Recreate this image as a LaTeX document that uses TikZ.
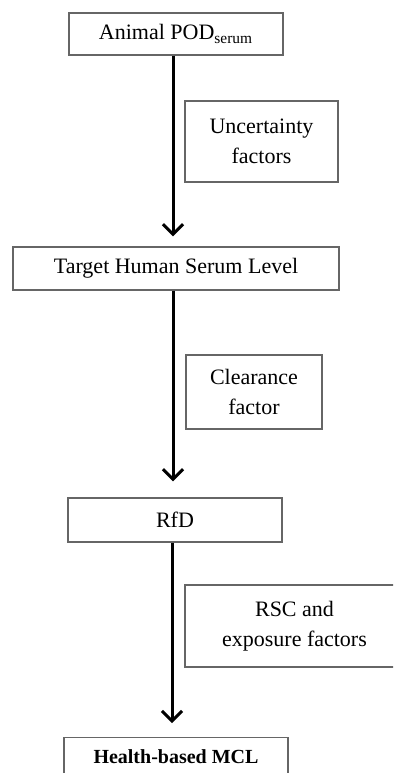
\documentclass[tikz,border=0pt]{standalone}
\usepackage{fontspec}
\setmainfont{Liberation Serif}
\usetikzlibrary{arrows.meta}

\begin{document}
\begin{tikzpicture}[x=0.5pt, y=-0.5pt,
	box/.style={draw=black!60, line width=0.65pt, align=center, inner sep=0pt, font=\fontsize{11}{15}\selectfont},
	flow/.style={line width=1.5pt, -{Straight Barb[length=5pt,width=10pt,line width=1.5pt]}}]
			%%%%% START %%%%%
			
			\useasboundingbox (0,0) rectangle (393,773);
			\clip (0,0) rectangle (393,773);
			
			\node[box, minimum width=107pt, minimum height=21pt] (pod) at (176,34) {Animal POD\textsubscript{serum}};
			\node[box, minimum width=76.5pt, minimum height=40.5pt] (uf) at (261.5,141.5) {Uncertainty\\factors};
			
			\node[box, minimum width=163pt, minimum height=21.5pt] (target) at (176,268.5) {Target Human Serum Level};
			\node[box, minimum width=68pt, minimum height=37pt] (clear) at (254,392) {Clearance\\factor};
			
			\node[box, minimum width=107pt, minimum height=22pt] (rfd) at (175,520) {RfD};
			\node[box, minimum width=109.5pt, minimum height=41pt] (rsc) at (294.5,626) {RSC and\\exposure factors};
			
			\node[box, minimum width=112pt, minimum height=22pt, anchor=north, font=\bfseries\fontsize{10}{12}\selectfont] (mcl) at (176,737) {\raisebox{3.5pt}{Health-based MCL}};
			
			\draw[flow, shorten >=5pt] ([xshift=-1.5pt]pod.south) -- ([xshift=-1.5pt]pod.south |- target.north);
			\draw[flow, shorten >=8pt] ([xshift=-1.5pt]target.south) -- ([xshift=-1.5pt]target.south |- rfd.north);
			\draw[flow, shorten >=7pt] ([xshift=-1.5pt]rfd.south) -- ([xshift=-1.5pt]rfd.south |- mcl.north);
			
			%%%%% END %%%%%
\end{tikzpicture}
\end{document}
